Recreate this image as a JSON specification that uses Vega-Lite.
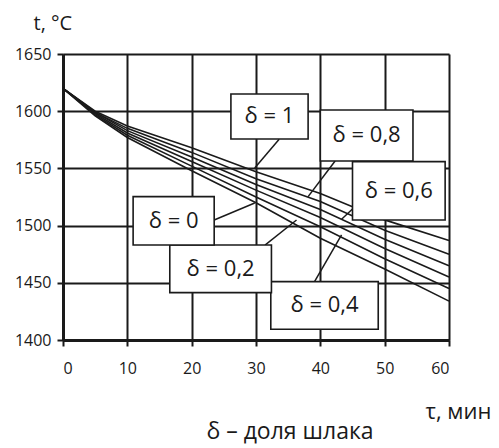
{
  "$schema": "https://vega.github.io/schema/vega-lite/v6.json",
  "width": 386,
  "height": 286,
  "autosize": "none",
  "padding": {"left": 63, "top": 54, "right": 50, "bottom": 108},
  "background": "white",
  "config": {
    "view": {"stroke": null},
    "font": "Open Sans",
    "axis": {
      "grid": true,
      "gridColor": "#1a1a1a",
      "gridWidth": 2,
      "gridOpacity": 1,
      "domainColor": "#1a1a1a",
      "domainWidth": 3,
      "tickColor": "#1a1a1a",
      "tickWidth": 2,
      "tickSize": 6,
      "labelFont": "Open Sans",
      "labelFontSize": 16,
      "labelColor": "#1a1a1a",
      "titleFont": "Open Sans",
      "titleFontWeight": "normal",
      "titleColor": "#1a1a1a"
    }
  },
  "title": {
    "text": "δ – доля шлака",
    "orient": "bottom",
    "anchor": "middle",
    "font": "Open Sans",
    "fontSize": 23,
    "fontWeight": "normal",
    "color": "#1a1a1a",
    "dx": 34,
    "offset": -1
  },
  "datasets": {
    "curves": [
      {"tau": 0, "t": 1620, "d": "1"}, {"tau": 5, "t": 1600, "d": "1"}, {"tau": 10, "t": 1587, "d": "1"}, {"tau": 20, "t": 1568, "d": "1"}, {"tau": 30, "t": 1547, "d": "1"}, {"tau": 40, "t": 1528, "d": "1"}, {"tau": 50, "t": 1505, "d": "1"}, {"tau": 60, "t": 1487, "d": "1"},
      {"tau": 0, "t": 1620, "d": "0,8"}, {"tau": 5, "t": 1599, "d": "0,8"}, {"tau": 10, "t": 1585, "d": "0,8"}, {"tau": 20, "t": 1564, "d": "0,8"}, {"tau": 30, "t": 1541, "d": "0,8"}, {"tau": 40, "t": 1521, "d": "0,8"}, {"tau": 50, "t": 1496, "d": "0,8"}, {"tau": 60, "t": 1475, "d": "0,8"},
      {"tau": 0, "t": 1620, "d": "0,6"}, {"tau": 5, "t": 1599, "d": "0,6"}, {"tau": 10, "t": 1583, "d": "0,6"}, {"tau": 20, "t": 1560, "d": "0,6"}, {"tau": 30, "t": 1536, "d": "0,6"}, {"tau": 40, "t": 1514, "d": "0,6"}, {"tau": 50, "t": 1488, "d": "0,6"}, {"tau": 60, "t": 1465, "d": "0,6"},
      {"tau": 0, "t": 1620, "d": "0,4"}, {"tau": 5, "t": 1598, "d": "0,4"}, {"tau": 10, "t": 1581, "d": "0,4"}, {"tau": 20, "t": 1556, "d": "0,4"}, {"tau": 30, "t": 1531, "d": "0,4"}, {"tau": 40, "t": 1507, "d": "0,4"}, {"tau": 50, "t": 1480, "d": "0,4"}, {"tau": 60, "t": 1455, "d": "0,4"},
      {"tau": 0, "t": 1620, "d": "0,2"}, {"tau": 5, "t": 1597, "d": "0,2"}, {"tau": 10, "t": 1579, "d": "0,2"}, {"tau": 20, "t": 1552, "d": "0,2"}, {"tau": 30, "t": 1525, "d": "0,2"}, {"tau": 40, "t": 1499, "d": "0,2"}, {"tau": 50, "t": 1471, "d": "0,2"}, {"tau": 60, "t": 1445, "d": "0,2"},
      {"tau": 0, "t": 1620, "d": "0"}, {"tau": 5, "t": 1596, "d": "0"}, {"tau": 10, "t": 1577, "d": "0"}, {"tau": 20, "t": 1548, "d": "0"}, {"tau": 30, "t": 1520, "d": "0"}, {"tau": 40, "t": 1489, "d": "0"}, {"tau": 50, "t": 1462, "d": "0"}, {"tau": 60, "t": 1434, "d": "0"}
    ],
    "labels": [
      {"label": "δ = 1", "bx1": 26.1, "bx2": 38.1, "by1": 1575.7, "by2": 1615, "cx": 32.1, "cy": 1595.4, "lx1": 33.6, "ly1": 1575.5, "lx2": 29.8, "ly2": 1550.4},
      {"label": "δ  = 0,8", "bx1": 40.0, "bx2": 54.4, "by1": 1556.5, "by2": 1601, "cx": 47.2, "cy": 1578.8, "lx1": 42.3, "ly1": 1556.5, "lx2": 38.1, "ly2": 1525.3},
      {"label": "δ  = 0,6", "bx1": 45.0, "bx2": 59.4, "by1": 1504.9, "by2": 1555.9, "cx": 52.2, "cy": 1530.4, "lx1": 45.0, "ly1": 1514.5, "lx2": 43.3, "ly2": 1505.5},
      {"label": "δ = 0,4", "bx1": 32.3, "bx2": 49.0, "by1": 1409.4, "by2": 1451, "cx": 40.65, "cy": 1430.2, "lx1": 39.1, "ly1": 1451, "lx2": 43.3, "ly2": 1491.8},
      {"label": "δ = 0,2", "bx1": 16.6, "bx2": 32.4, "by1": 1441.4, "by2": 1483, "cx": 24.5, "cy": 1462.2, "lx1": 31.4, "ly1": 1483, "lx2": 36.3, "ly2": 1504.9},
      {"label": "δ = 0", "bx1": 10.9, "bx2": 23.5, "by1": 1483, "by2": 1525.3, "cx": 17.2, "cy": 1504.2, "lx1": 23.5, "ly1": 1504.9, "lx2": 29.8, "ly2": 1519.8}
    ]
  },
  "layer": [
    {
      "data": {"name": "curves"},
      "mark": {"type": "line", "color": "#1a1a1a", "strokeWidth": 1.6},
      "encoding": {
        "x": {
          "field": "tau", "type": "quantitative",
          "scale": {"domain": [0, 60], "nice": false},
          "axis": {
            "values": [0, 10, 20, 30, 40, 50, 60],
            "labelPadding": 14,
            "title": "τ, мин",
            "titleFontSize": 22,
            "titleAnchor": "start",
            "titleAlign": "left",
            "titleBaseline": "middle",
            "titleX": 362,
            "titleY": 71
          }
        },
        "y": {
          "field": "t", "type": "quantitative",
          "scale": {"domain": [1400, 1650], "nice": false, "zero": false},
          "axis": {
            "values": [1400, 1450, 1500, 1550, 1600, 1650],
            "format": "d",
            "labelPadding": 6,
            "title": "t, °C",
            "titleFontSize": 20,
            "titleAngle": 0,
            "titleAlign": "left",
            "titleBaseline": "middle",
            "titleX": -30,
            "titleY": -31
          }
        },
        "detail": {"field": "d", "type": "nominal"}
      }
    },
    {
      "data": {"name": "labels"},
      "mark": {"type": "rule", "color": "#1a1a1a", "strokeWidth": 1.5},
      "encoding": {
        "x": {"field": "lx1", "type": "quantitative"},
        "y": {"field": "ly1", "type": "quantitative"},
        "x2": {"field": "lx2"},
        "y2": {"field": "ly2"}
      }
    },
    {
      "data": {"name": "labels"},
      "mark": {"type": "rect", "fill": "white", "stroke": "#1a1a1a", "strokeWidth": 1.6},
      "encoding": {
        "x": {"field": "bx1", "type": "quantitative"},
        "x2": {"field": "bx2"},
        "y": {"field": "by1", "type": "quantitative"},
        "y2": {"field": "by2"}
      }
    },
    {
      "data": {"name": "labels"},
      "mark": {"type": "text", "font": "Open Sans", "fontSize": 22, "color": "#1a1a1a", "align": "center", "baseline": "middle"},
      "encoding": {
        "x": {"field": "cx", "type": "quantitative"},
        "y": {"field": "cy", "type": "quantitative"},
        "text": {"field": "label"}
      }
    }
  ]
}
